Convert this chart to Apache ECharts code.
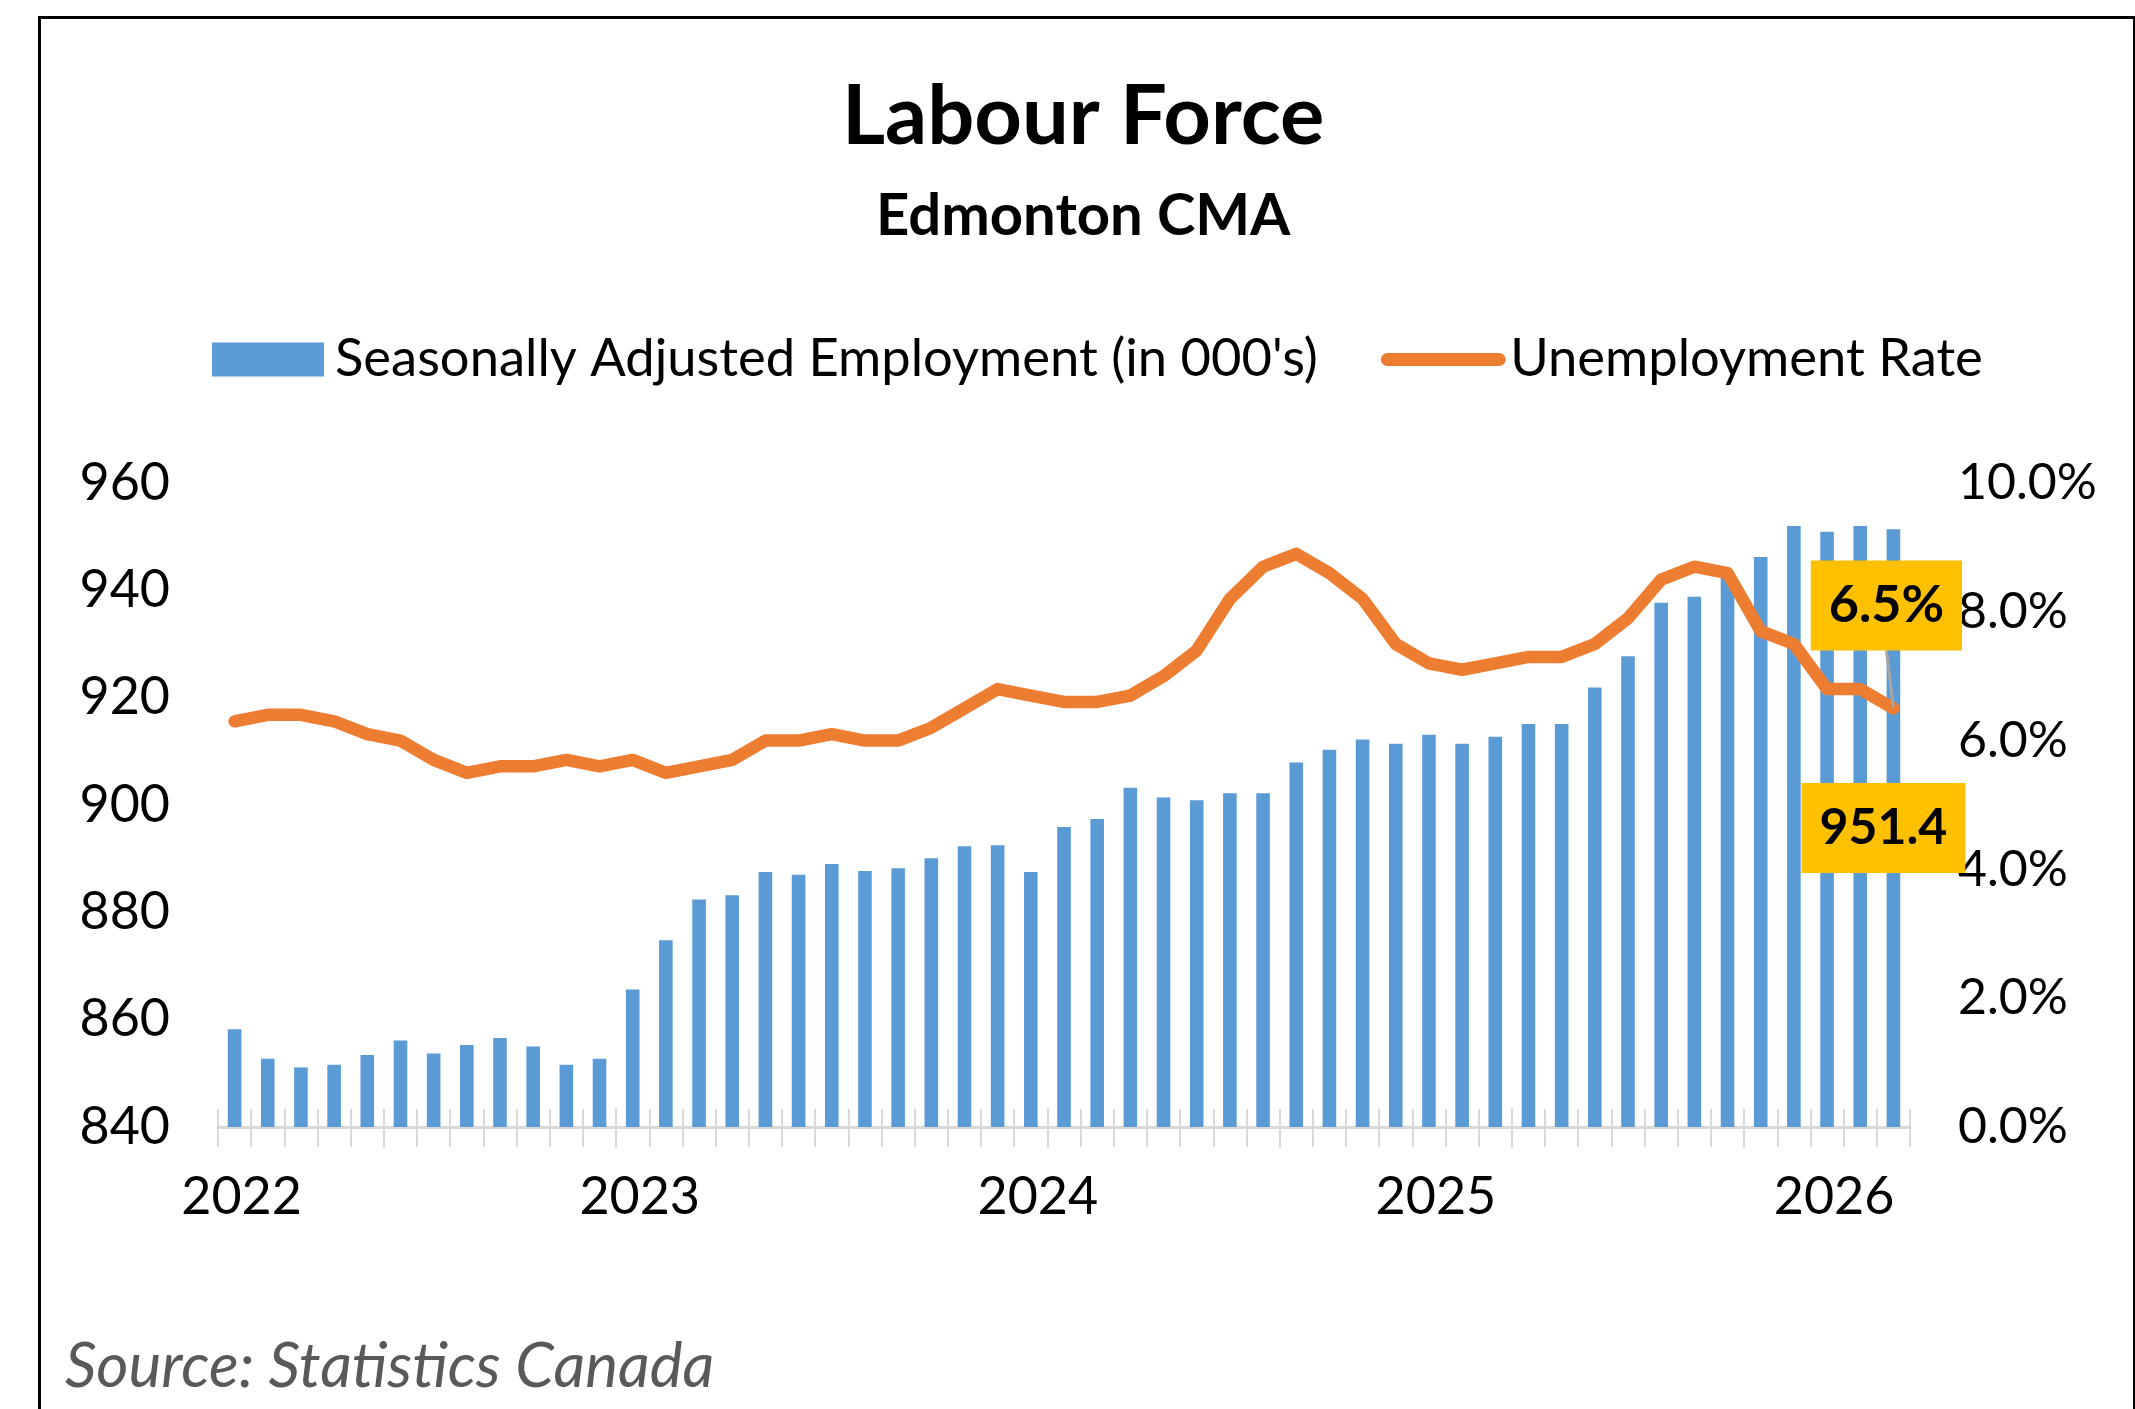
<!DOCTYPE html>
<html>
<head>
<meta charset="utf-8">
<script src="https://cdn.jsdelivr.net/npm/echarts@6/dist/echarts.min.js"></script>
<style>
html,body{margin:0;padding:0;background:#fff;}
#chart{width:2135px;height:1409px;}
</style>
</head>
<body>
<div id="chart"></div>
<script>
// ---- data ----
const years = ['2022', '2023', '2024', '2025', '2026'];
const monthNames = ['Jan','Feb','Mar','Apr','May','Jun','Jul','Aug','Sep','Oct','Nov','Dec'];
// monthly categories Jan 2022 .. Mar 2026 (51 months)
const categories = [];
years.forEach(function (y, yi) {
  monthNames.forEach(function (m, mi) {
    if (yi < 4 || mi < 3) categories.push(m + ' ' + y);
  });
});
const yearTickLabels = ['2022', '2023', '2024', '2025', '2026'];

const employment = [
  858.2, 852.7, 851.1, 851.6, 853.4, 856.1, 853.7, 855.3, 856.6, 855.0, 851.6, 852.7,
  865.6, 874.8, 882.4, 883.2, 887.5, 887.0, 889.0, 887.7, 888.2, 890.1, 892.3, 892.5,
  887.5, 895.9, 897.4, 903.2, 901.4, 900.9, 902.2, 902.2, 907.9, 910.3, 912.2, 911.4,
  913.1, 911.4, 912.7, 915.1, 915.1, 921.9, 927.7, 937.7, 938.8, 942.7, 946.2, 952.0,
  950.9, 952.0, 951.4
];
const unemploymentRate = [
  6.3, 6.4, 6.4, 6.3, 6.1, 6.0, 5.7, 5.5, 5.6, 5.6, 5.7, 5.6,
  5.7, 5.5, 5.6, 5.7, 6.0, 6.0, 6.1, 6.0, 6.0, 6.2, 6.5, 6.8,
  6.7, 6.6, 6.6, 6.7, 7.0, 7.4, 8.2, 8.7, 8.9, 8.6, 8.2, 7.5,
  7.2, 7.1, 7.2, 7.3, 7.3, 7.5, 7.9, 8.5, 8.7, 8.6, 7.7, 7.5,
  6.8, 6.8, 6.5
];
const employmentName = "Seasonally Adjusted Employment (in 000's)";
const rateName = 'Unemployment Rate';
const leftTicks = {min: 840, max: 960, interval: 20};
const rightTicks = {min: 0, max: 10, interval: 2};

// ---- chart ----
const FONT = 'Lato';
const last = employment.length - 1;

const barData = employment.map(function (v, i) {
  if (i !== last) return v;
  return {
    value: v,
    label: {
      show: true, position: 'inside', offset: [-10, 0],
      formatter: function (p) { return p.value.toFixed(1); },
      fontFamily: FONT, fontWeight: 'bold', fontSize: 50, lineHeight: 52, color: '#000',
      backgroundColor: '#FFC000', padding: [19, 18, 19, 18]
    }
  };
});
const lineData = unemploymentRate.map(function (v, i) {
  if (i !== last) return v;
  return {
    value: v,
    label: {
      show: true, position: 'inside',
      formatter: function (p) { return p.value.toFixed(1) + '%'; },
      fontFamily: FONT, fontWeight: 'bold', fontSize: 52, lineHeight: 54, color: '#000',
      backgroundColor: '#FFC000', padding: [18, 18, 18, 18]
    }
  };
});

const chart = echarts.init(document.getElementById('chart'), null, {renderer: 'canvas'});
chart.setOption({
  backgroundColor: '#fff',
  animation: false,
  textStyle: {fontFamily: FONT},
  graphic: [{
    type: 'rect', left: 37, top: 15, silent: true,
    shape: {width: 2095, height: 1500},
    style: {fill: 'none', stroke: '#000', lineWidth: 3}
  }],
  title: [
    {text: 'Labour Force', left: 837, top: 71,
     textStyle: {fontFamily: FONT, fontWeight: 'bold', fontSize: 83, color: '#000'}},
    {text: 'Edmonton CMA', left: 871, top: 182,
     textStyle: {fontFamily: FONT, fontWeight: 'bold', fontSize: 58, color: '#000'}},
    {text: 'Source: Statistics Canada', left: 60, top: 1331,
     textStyle: {fontFamily: FONT, fontStyle: 'italic', fontWeight: 'normal', fontSize: 62, color: '#595959'}}
  ],
  legend: {
    top: 328, left: 207,
    itemWidth: 112, itemHeight: 34, itemGap: 63,
    textStyle: {fontFamily: FONT, fontSize: 52.5, color: '#000', padding: [0, 0, 0, 6]},
    data: [
      {name: employmentName, icon: 'rect'},
      {name: rateName, itemStyle: {opacity: 0},
       lineStyle: {width: 13, cap: 'round', color: '#ED7D31'}}
    ]
  },
  grid: {left: 218, right: 225, top: 483, bottom: 282, containLabel: false},
  xAxis: [{
    type: 'category', data: categories, position: 'bottom',
    boundaryGap: true,
    axisLine: {show: true, lineStyle: {color: '#D9D9D9', width: 3}},
    axisTick: {show: true, interval: 0, length: 20, lineStyle: {color: '#D9D9D9', width: 2}},
    axisLabel: {
      interval: 0, margin: 44, fontFamily: FONT, fontSize: 52, color: '#000',
      padding: [0, 0, 0, 14],
      formatter: function (v, i) { return i % 12 === 0 ? yearTickLabels[i / 12] : ''; }
    },
    splitLine: {show: false}
  }, {
    type: 'category', data: categories, position: 'bottom', gridIndex: 0,
    boundaryGap: true,
    axisLine: {show: false},
    axisTick: {show: true, inside: true, interval: 0, length: 18, lineStyle: {color: '#D9D9D9', width: 2}},
    axisLabel: {show: false},
    splitLine: {show: false}
  }],
  yAxis: [{
    type: 'value', min: leftTicks.min, max: leftTicks.max, interval: leftTicks.interval,
    axisLine: {show: false}, axisTick: {show: false}, splitLine: {show: false},
    axisLabel: {margin: 48, fontFamily: FONT, fontSize: 52, color: '#000'}
  }, {
    type: 'value', min: rightTicks.min, max: rightTicks.max, interval: rightTicks.interval,
    position: 'right',
    axisLine: {show: false}, axisTick: {show: false}, splitLine: {show: false},
    axisLabel: {margin: 48, fontFamily: FONT, fontSize: 50, color: '#000',
      formatter: function (v) { return v.toFixed(1) + '%'; }}
  }],
  series: [{
    name: employmentName, type: 'bar', xAxisIndex: 0, yAxisIndex: 0,
    data: barData, barWidth: '41%',
    itemStyle: {color: '#5B9BD5'},
    label: {show: false},
    z: 2
  }, {
    name: rateName, type: 'line', xAxisIndex: 0, yAxisIndex: 1,
    data: lineData,
    symbol: 'circle', symbolSize: 2, showSymbol: true,
    itemStyle: {color: '#ED7D31'},
    lineStyle: {color: '#ED7D31', width: 12.5, cap: 'round', join: 'round'},
    label: {show: false},
    labelLayout: function (params) {
      if (params.dataIndex === last) return {dx: -7, dy: -103};
      return {};
    },
    labelLine: {show: true, lineStyle: {color: '#A6A6A6', width: 3}},
    z: 3
  }]
});
</script>
</body>
</html>
